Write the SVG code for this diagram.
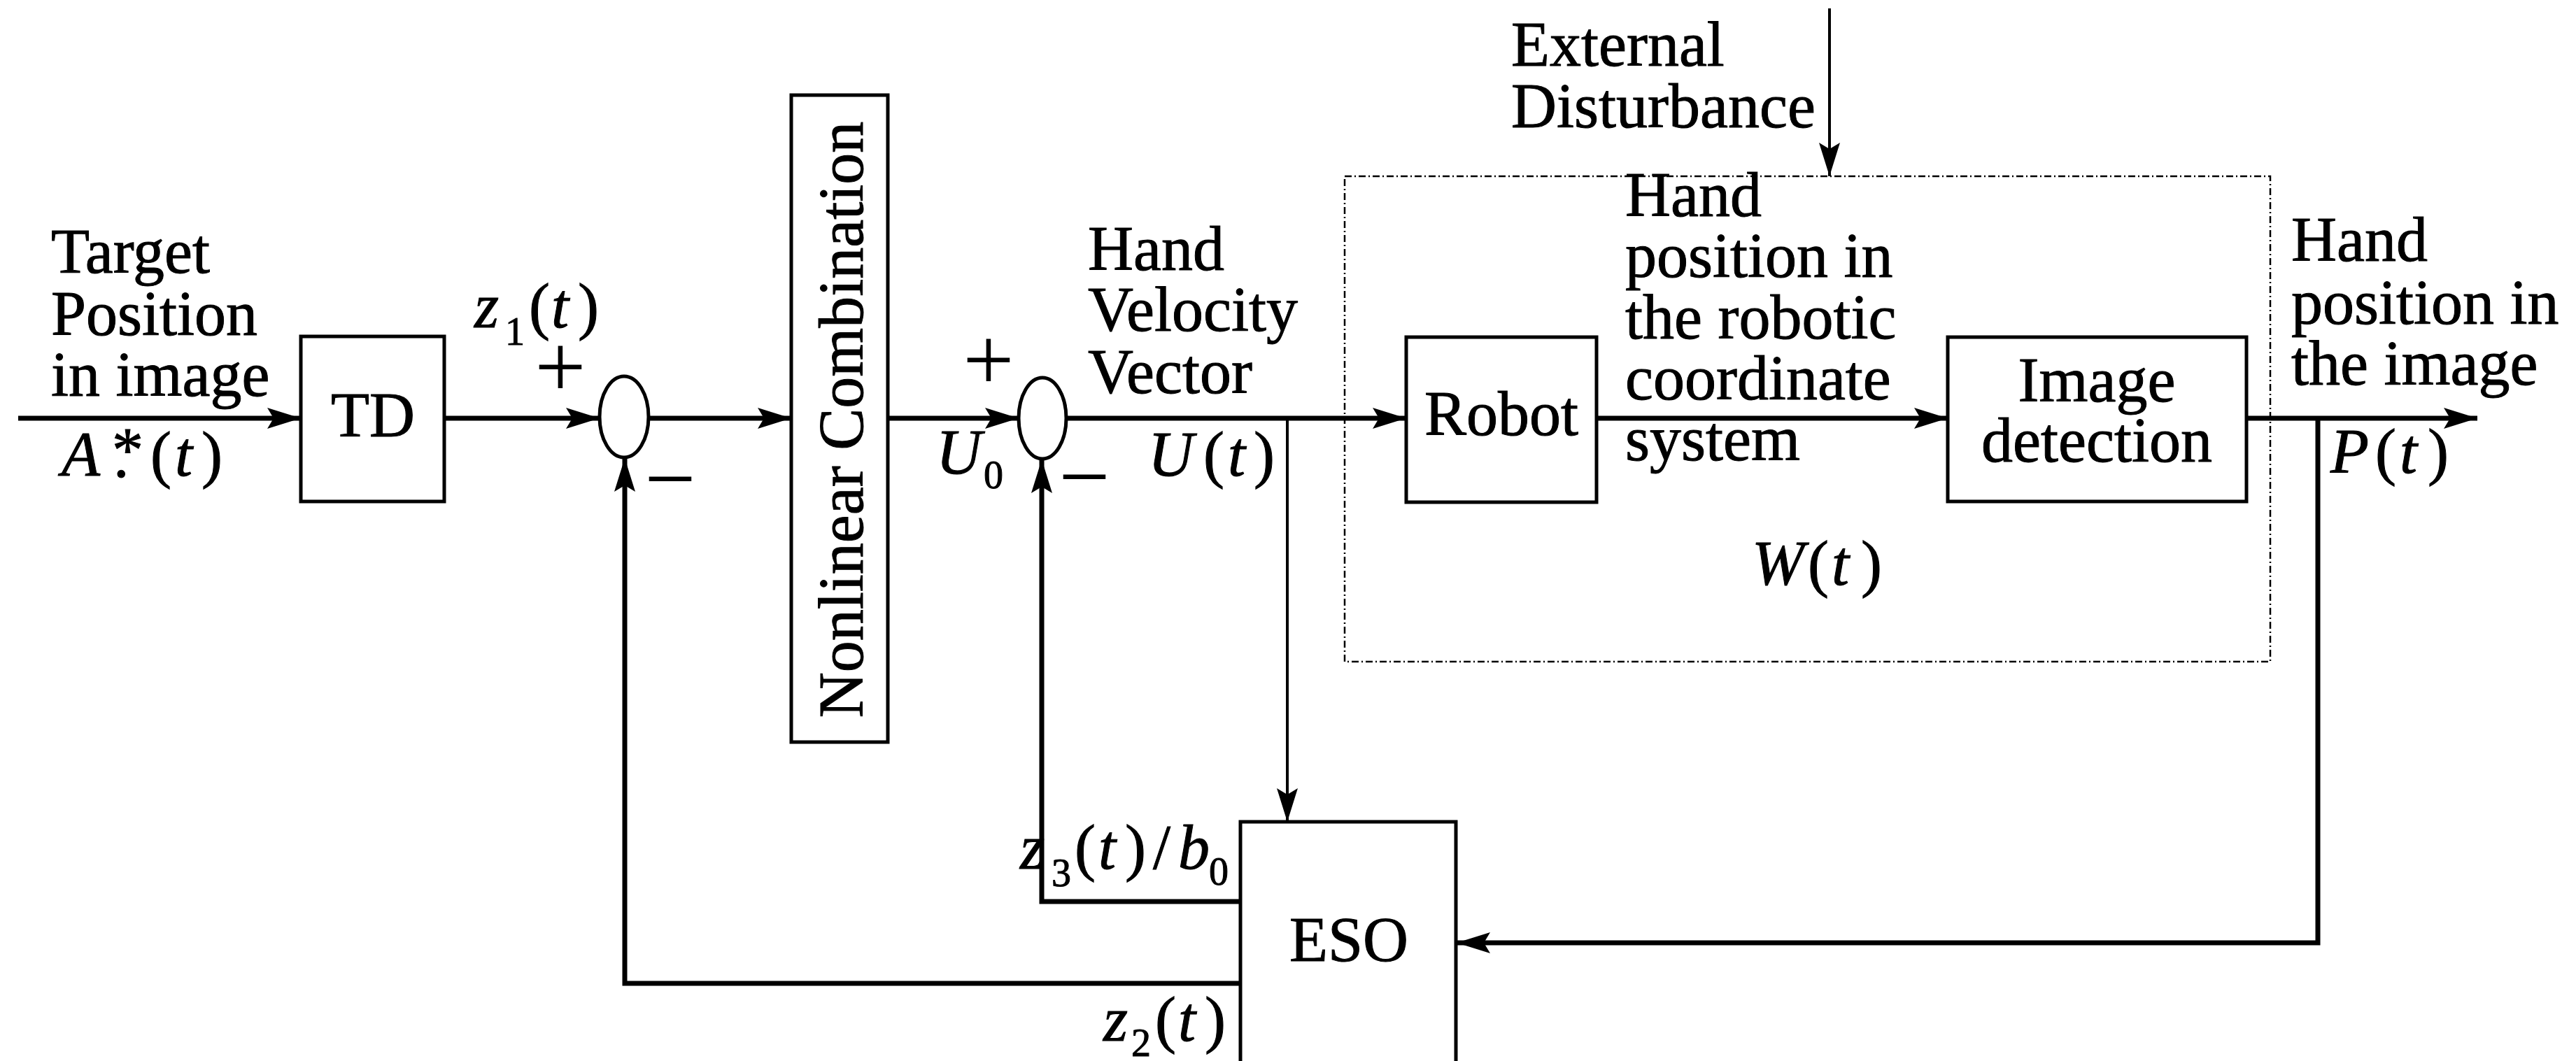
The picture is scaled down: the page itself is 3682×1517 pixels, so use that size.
<svg xmlns="http://www.w3.org/2000/svg" width="3682" height="1517" viewBox="0 0 3682 1517">
<defs>
<style>
text{font-family:"Liberation Serif","Times New Roman",serif;font-size:90px;fill:#000;stroke:#000;stroke-width:1}
.it{font-style:italic}
.sub{font-size:56px}
.sign{font-size:130px;stroke-width:0}
.box{fill:#fff;stroke:#000;stroke-width:5}
.sum{fill:none;stroke:#000;stroke-width:5}
.ln{fill:none;stroke:#000;stroke-width:7}
.thin{fill:none;stroke:#000;stroke-width:4}
.dot{fill:none;stroke:#000;stroke-width:2.5;stroke-dasharray:10 4 2 4}
</style>
<marker id="ah" markerUnits="userSpaceOnUse" markerWidth="52" markerHeight="34" refX="48" refY="15" orient="auto">
<path d="M0,0 L48,15 L0,30 L9,15 z" fill="#000"/>
</marker>
</defs>
<rect width="3682" height="1517" fill="#fff"/>

<g id="plant-boundary">
<rect class="dot" x="1922" y="252" width="1323" height="694"/>
<text x="2504" y="836" class="it">W</text>
<text x="2584" y="836">(</text>
<text x="2618" y="836" class="it">t</text>
<text x="2660" y="836">)</text>
</g>

<g id="connectors">
<line class="ln" x1="26" y1="598" x2="430" y2="598" marker-end="url(#ah)"/>
<line class="ln" x1="635" y1="598" x2="857" y2="598" marker-end="url(#ah)"/>
<line class="ln" x1="927" y1="598" x2="1131" y2="598" marker-end="url(#ah)"/>
<line class="ln" x1="1269" y1="598" x2="1456" y2="598" marker-end="url(#ah)"/>
<line class="ln" x1="1524" y1="598" x2="2010" y2="598" marker-end="url(#ah)"/>
<line class="thin" x1="1840" y1="598" x2="1840" y2="1175" marker-end="url(#ah)"/>
<line class="ln" x1="2282" y1="598" x2="2784" y2="598" marker-end="url(#ah)"/>
<line class="ln" x1="3211" y1="598" x2="3541" y2="598" marker-end="url(#ah)"/>
<polyline class="ln" points="3313,598 3313,1348 2082,1348" marker-end="url(#ah)"/>
<polyline class="ln" points="1773,1289 1489,1289 1489,657" marker-end="url(#ah)"/>
<polyline class="ln" points="1773,1406 893,1406 893,655" marker-end="url(#ah)"/>
<line class="thin" x1="2615" y1="12" x2="2615" y2="252" marker-end="url(#ah)"/>
</g>

<g id="input-label">
<text x="73" y="390">Target</text>
<text x="73" y="479">Position</text>
<text x="73" y="566">in image</text>
<text x="88" y="680" class="it">A</text>
<text x="160" y="674" font-size="80">*</text>
<text x="162" y="682">.</text>
<text x="215" y="680">(</text>
<text x="250" y="680" class="it">t</text>
<text x="288" y="680">)</text>
</g>

<g id="TD">
<rect class="box" x="430" y="481" width="205" height="236"/>
<text x="533" y="624" text-anchor="middle">TD</text>
</g>

<g id="z1-label">
<text x="678" y="468" class="it">z</text>
<text x="722" y="493" class="sub">1</text>
<text x="756" y="468">(</text>
<text x="788" y="468" class="it">t</text>
<text x="826" y="468">)</text>
</g>

<g id="sum1">
<ellipse class="sum" cx="892" cy="596" rx="35" ry="58"/>
<text x="801" y="568" class="sign" text-anchor="middle">+</text>
<text x="958" y="728" class="sign" text-anchor="middle">−</text>
</g>

<g id="nonlinear-combination">
<rect class="box" x="1131" y="136" width="138" height="925"/>
<text transform="translate(1233,600) rotate(-90)" text-anchor="middle" font-size="96">Nonlinear Combination</text>
</g>

<g id="u0-label">
<text x="1338" y="677" class="it">U</text>
<text x="1406" y="698" class="sub">0</text>
</g>

<g id="sum2">
<ellipse class="sum" cx="1490" cy="598" rx="34" ry="58"/>
<text x="1413" y="558" class="sign" text-anchor="middle">+</text>
<text x="1550" y="725" class="sign" text-anchor="middle">−</text>
</g>

<g id="velocity-label">
<text x="1555" y="386">Hand</text>
<text x="1555" y="473">Velocity</text>
<text x="1555" y="562">Vector</text>
<text x="1641" y="680" class="it">U</text>
<text x="1720" y="680">(</text>
<text x="1755" y="680" class="it">t</text>
<text x="1792" y="680">)</text>
</g>

<g id="disturbance-label">
<text x="2160" y="94">External</text>
<text x="2160" y="182">Disturbance</text>
</g>

<g id="Robot">
<rect class="box" x="2010" y="482" width="272" height="236"/>
<text x="2146" y="622" text-anchor="middle">Robot</text>
</g>

<g id="robot-coord-label">
<text x="2323" y="309">Hand</text>
<text x="2323" y="396">position in</text>
<text x="2323" y="484">the robotic</text>
<text x="2323" y="571">coordinate</text>
<text x="2323" y="658">system</text>
</g>

<g id="image-detection">
<rect class="box" x="2784" y="482" width="427" height="235"/>
<text x="2997" y="574" text-anchor="middle">Image</text>
<text x="2997" y="660" text-anchor="middle">detection</text>
</g>

<g id="output-label">
<text x="3275" y="373">Hand</text>
<text x="3275" y="463">position in</text>
<text x="3275" y="550">the image</text>
<text x="3331" y="676" class="it">P</text>
<text x="3395" y="676">(</text>
<text x="3430" y="676" class="it">t</text>
<text x="3470" y="676">)</text>
</g>

<g id="ESO">
<rect class="box" x="1773" y="1175" width="308" height="360"/>
<text x="1928" y="1374" text-anchor="middle">ESO</text>
</g>

<g id="z3-label">
<text x="1458" y="1242" class="it">z</text>
<text x="1503" y="1267" class="sub">3</text>
<text x="1536" y="1242">(</text>
<text x="1570" y="1242" class="it">t</text>
<text x="1608" y="1242">)</text>
<text x="1648" y="1242">/</text>
<text x="1684" y="1242" class="it">b</text>
<text x="1728" y="1265" class="sub">0</text>
</g>

<g id="z2-label">
<text x="1577" y="1488" class="it">z</text>
<text x="1617" y="1510" class="sub">2</text>
<text x="1651" y="1488">(</text>
<text x="1684" y="1488" class="it">t</text>
<text x="1722" y="1488">)</text>
</g>
</svg>
